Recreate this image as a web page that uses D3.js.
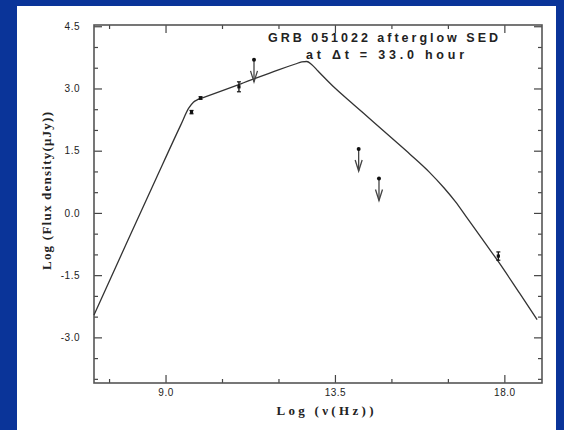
<!DOCTYPE html>
<html>
<head>
<meta charset="utf-8">
<script src="https://cdn.jsdelivr.net/npm/d3@7"></script>
<style>
  html, body { margin: 0; padding: 0; background: #0a3499; }
  svg { display: block; }
</style>
</head>
<body>
<svg id="chart" width="564" height="430"></svg>
<script>
// Afterglow SED model: log frequency (Hz) vs log flux density (µJy)
const modelLogNu = [7.10, 8.00, 8.75, 9.40, 9.62, 9.74, 9.85, 10.00, 11.00, 12.00, 12.45, 12.62, 12.75, 12.88, 13.05,
                    13.50, 14.00, 14.50, 15.00, 15.50, 16.00, 16.40, 16.70, 17.00, 17.50, 17.86, 18.40, 18.87];
const modelLogF  = [-2.46, -0.66, 0.83, 2.11, 2.53, 2.67, 2.73, 2.78, 3.11, 3.45, 3.59, 3.64, 3.65, 3.58, 3.42,
                    3.01, 2.61, 2.21, 1.81, 1.41, 0.99, 0.60, 0.27, -0.11, -0.74, -1.20, -1.93, -2.57];

// Detections with 1-sigma errors
const detLogNu = [9.69, 9.93, 10.95, 17.84];
const detLogF  = [2.43, 2.77, 3.04, -1.04];
const detErr   = [0.04, 0.03, 0.12, 0.10];

// Upper limits
const limLogNu = [11.35, 14.13, 14.67];
const limLogF  = [3.69, 1.54, 0.83];

// Axis ticks
const xMajor = [9.0, 13.5, 18.0];
const xMinor = [7.5, 10.5, 12.0, 15.0, 16.5];
const yMajor = [-3.0, -1.5, 0.0, 1.5, 3.0, 4.5];
const yMinor = [-4.0, -3.5, -2.5, -2.0, -1.0, -0.5, 0.5, 1.0, 2.0, 2.5, 3.5, 4.0];

const titleLines = ["GRB 051022 afterglow SED", "at \u0394t = 33.0 hour"];
const xTitle = "Log (\u03bd(Hz))";
const yTitle = "Log (Flux density(\u03bcJy))";

const svg = d3.select("#chart");

// slide panel
svg.append("rect").attr("x", 0).attr("y", 0).attr("width", 564).attr("height", 430).attr("fill", "#0a3499");
svg.append("rect").attr("x", 17).attr("y", 6).attr("width", 539).attr("height", 424).attr("fill", "#ffffff");

const L = 94, R = 542, T = 25, B = 383;
const x = d3.scaleLinear().domain([7.1, 19.0]).range([L, R]);
const y = d3.scaleLinear().domain([-4.1, 4.53]).range([B, T]);

const fmt = d => d.toFixed(1);
const axisColor = "#444";

function styleAxis(g) {
  g.select(".domain").remove();
  g.selectAll(".tick line").attr("stroke", axisColor).attr("stroke-width", 1.2);
  g.selectAll(".tick text")
    .attr("fill", "#222")
    .style("font-family", "'Liberation Sans', Arial, sans-serif")
    .style("font-size", "10px")
    .style("letter-spacing", "0.5px");
}

// left axis
svg.append("g").attr("transform", `translate(${L},0)`)
  .call(d3.axisLeft(y).tickValues(yMajor).tickSize(-8).tickPadding(14).tickFormat(fmt)).call(styleAxis);
svg.append("g").attr("transform", `translate(${L},0)`)
  .call(d3.axisLeft(y).tickValues(yMinor).tickSize(-4).tickFormat("")).call(styleAxis);
// right axis
svg.append("g").attr("transform", `translate(${R},0)`)
  .call(d3.axisRight(y).tickValues(yMajor).tickSize(-8).tickFormat("")).call(styleAxis);
svg.append("g").attr("transform", `translate(${R},0)`)
  .call(d3.axisRight(y).tickValues(yMinor).tickSize(-4).tickFormat("")).call(styleAxis);
// bottom axis
svg.append("g").attr("transform", `translate(0,${B})`)
  .call(d3.axisBottom(x).tickValues(xMajor).tickSize(-8).tickPadding(6).tickFormat(fmt)).call(styleAxis);
svg.append("g").attr("transform", `translate(0,${B})`)
  .call(d3.axisBottom(x).tickValues(xMinor).tickSize(-4).tickFormat("")).call(styleAxis);
// top axis
svg.append("g").attr("transform", `translate(0,${T})`)
  .call(d3.axisTop(x).tickValues(xMajor).tickSize(-8).tickFormat("")).call(styleAxis);
svg.append("g").attr("transform", `translate(0,${T})`)
  .call(d3.axisTop(x).tickValues(xMinor).tickSize(-4).tickFormat("")).call(styleAxis);

// frame
svg.append("rect").attr("x", L).attr("y", T).attr("width", R - L).attr("height", B - T)
  .attr("fill", "none").attr("stroke", "#555").attr("stroke-width", 1.6);

// model curve
const model = modelLogNu.map((v, i) => [v, modelLogF[i]]);
svg.append("path").datum(model)
  .attr("fill", "none").attr("stroke", "#333").attr("stroke-width", 1.3)
  .attr("d", d3.line().x(d => x(d[0])).y(d => y(d[1])).curve(d3.curveMonotoneX));

// detections
const det = detLogNu.map((v, i) => ({nu: v, f: detLogF[i], e: detErr[i]}));
const dg = svg.append("g").selectAll("g").data(det).join("g");
dg.append("line")
  .attr("x1", d => x(d.nu)).attr("x2", d => x(d.nu))
  .attr("y1", d => y(d.f + d.e)).attr("y2", d => y(d.f - d.e))
  .attr("stroke", "#111").attr("stroke-width", 1.3);
dg.append("line")
  .attr("x1", d => x(d.nu) - 2).attr("x2", d => x(d.nu) + 2)
  .attr("y1", d => y(d.f + d.e)).attr("y2", d => y(d.f + d.e))
  .attr("stroke", "#111").attr("stroke-width", 1.2);
dg.append("line")
  .attr("x1", d => x(d.nu) - 2).attr("x2", d => x(d.nu) + 2)
  .attr("y1", d => y(d.f - d.e)).attr("y2", d => y(d.f - d.e))
  .attr("stroke", "#111").attr("stroke-width", 1.2);
dg.append("rect")
  .attr("x", d => x(d.nu) - 1.6).attr("y", d => y(d.f) - 1.6)
  .attr("width", 3.2).attr("height", 3.2).attr("fill", "#111");

// upper limits: dot with downward arrow
const lim = limLogNu.map((v, i) => ({nu: v, f: limLogF[i]}));
const arrowLen = 22, headLen = 11, headHalf = 3.5;
const lg = svg.append("g").selectAll("g").data(lim).join("g");
lg.append("line")
  .attr("x1", d => x(d.nu)).attr("x2", d => x(d.nu))
  .attr("y1", d => y(d.f)).attr("y2", d => y(d.f) + arrowLen)
  .attr("stroke", "#444").attr("stroke-width", 1.3);
lg.append("path")
  .attr("d", d => {
    const cx = x(d.nu), tip = y(d.f) + arrowLen;
    return `M${cx - headHalf},${tip - headLen}L${cx},${tip}L${cx + headHalf},${tip - headLen}`;
  })
  .attr("fill", "none").attr("stroke", "#444").attr("stroke-width", 1.3);
lg.append("circle")
  .attr("cx", d => x(d.nu)).attr("cy", d => y(d.f)).attr("r", 2).attr("fill", "#111");

// title
svg.append("text").attr("x", 383).attr("y", 42).attr("text-anchor", "middle")
  .attr("textLength", 230).attr("lengthAdjust", "spacing")
  .style("font-family", "'Liberation Sans', Arial, sans-serif").style("font-weight", "bold")
  .style("font-size", "12.5px").attr("fill", "#222").text(titleLines[0]);
svg.append("text").attr("x", 385).attr("y", 59).attr("text-anchor", "middle")
  .attr("textLength", 158).attr("lengthAdjust", "spacing")
  .style("font-family", "'Liberation Sans', Arial, sans-serif").style("font-weight", "bold")
  .style("font-size", "12.5px").attr("fill", "#222").text(titleLines[1]);

// axis titles
svg.append("text").attr("x", 325).attr("y", 415).attr("text-anchor", "middle")
  .attr("textLength", 97).attr("lengthAdjust", "spacing")
  .style("font-family", "'Liberation Serif', 'Times New Roman', serif").style("font-weight", "bold")
  .style("font-size", "13px").attr("fill", "#222").text(xTitle);
svg.append("text").attr("transform", "translate(51,191) rotate(-90)").attr("text-anchor", "middle")
  .attr("textLength", 158).attr("lengthAdjust", "spacing")
  .style("font-family", "'Liberation Serif', 'Times New Roman', serif").style("font-weight", "bold")
  .style("font-size", "13px").attr("fill", "#222").text(yTitle);
</script>
</body>
</html>
